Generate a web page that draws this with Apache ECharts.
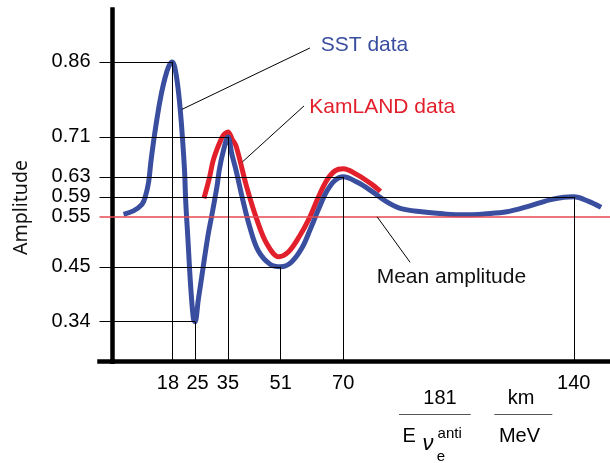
<!DOCTYPE html>
<html>
<head>
<meta charset="utf-8">
<script src="https://cdn.jsdelivr.net/npm/echarts@6/dist/echarts.min.js"></script>
<style>
html,body{margin:0;padding:0;background:#fff;}
#chart{width:610px;height:463px;}
</style>
</head>
<body>
<div id="chart"></div>
<script>
// ---- data ----
const xTicks = [18, 25, 35, 51, 70, 140];
const yTicks = [0.86, 0.71, 0.63, 0.59, 0.55, 0.45, 0.34];
const peakX = [18, 25, 35, 51, 70, 140];
const peakY = [0.86, 0.34, 0.71, 0.45, 0.63, 0.59];
const meanAmplitude = 0.55;

const sstX = [3.3, 6.3, 8.9, 9.9, 10.9, 11.6, 12.4, 13.3, 14.3, 15.4, 16.5, 17.3, 18, 18.7, 19.5, 20.3, 21.0, 21.8, 22.2, 22.8, 23.6, 24.5, 25,
  26.0, 27.4, 28.9, 30.1, 31.7, 32.4, 33.6, 35, 36.2, 37.5, 39.5, 41.6, 44.2, 47.8, 51,
  54.2, 57.5, 60.0, 62.5, 65.0, 67.5, 70, 74.3, 78.7, 83.0, 87.3, 93.8, 100.3, 106.7, 113.2, 119.7, 126.2, 132.7, 137.0, 140, 144.5, 148.3];
const sstY = [0.555, 0.562, 0.575, 0.59, 0.619, 0.66, 0.70, 0.74, 0.78, 0.815, 0.842, 0.855, 0.86, 0.853, 0.825, 0.78, 0.725, 0.645, 0.578, 0.511, 0.419, 0.346, 0.34,
  0.384, 0.446, 0.511, 0.553, 0.612, 0.645, 0.682, 0.71, 0.675, 0.642, 0.584, 0.53, 0.482, 0.455, 0.45,
  0.459, 0.488, 0.525, 0.565, 0.601, 0.623, 0.63, 0.619, 0.601, 0.581, 0.567, 0.560, 0.556, 0.554, 0.556, 0.560, 0.571, 0.584, 0.589, 0.59, 0.581, 0.569];

const kamX = [27.7, 29.3, 30.7, 33.1, 34.0, 35, 36.3, 37.5, 40.6, 43.7, 46.8, 50.4, 53.4, 56.7, 59.6, 62.5, 65.0, 67.5, 70, 74.3, 78.7, 81.3];
const kamY = [0.587, 0.626, 0.667, 0.708, 0.716, 0.72, 0.705, 0.691, 0.612, 0.546, 0.496, 0.47, 0.48, 0.511, 0.546, 0.59, 0.623, 0.642, 0.646, 0.634, 0.615, 0.601];

// annotation pointer anchors (data space): [from, to]
const sstPointer = [[21.0, 0.765], [59.9, 0.888]];
const kamPointer = [[39.4, 0.66], [58.1, 0.772]];
const meanPointer = [[80.3, 0.55], [90.3, 0.459]];

const X_MIN = -4, X_MAX = 151, Y_MIN = 0.26, Y_MAX = 0.965;

const FONT = '"Liberation Sans", Arial, sans-serif';
const zip = (xs, ys) => xs.map((x, i) => [x, ys[i]]);

const guides = [];
peakX.forEach((x, i) => {
  const y = peakY[i];
  guides.push([{ coord: [X_MIN, y] }, { coord: [x, y] }]);
  guides.push([{ coord: [x, y] }, { coord: [x, Y_MIN] }]);
});
const pointers = [sstPointer, kamPointer, meanPointer].map(p => [{ coord: p[0] }, { coord: p[1] }]);

const chart = echarts.init(document.getElementById('chart'), null, { renderer: 'canvas' });

const txt = (text, x, y, opts, extra) => Object.assign({
  type: 'text', x: x, y: y, silent: true,
  style: Object.assign({ text: text, fill: '#000', fontSize: 20, fontFamily: FONT, align: 'center', verticalAlign: 'middle' }, opts || {})
}, extra || {});

const labelStyle = { fontSize: 20, color: '#000', fontFamily: FONT };

chart.setOption({
  animation: false,
  backgroundColor: '#fff',
  grid: { left: 99.5, right: 0, top: 9.5, bottom: 101.3, outerBoundsMode: 'none' },
  xAxis: {
    type: 'value', min: X_MIN, max: X_MAX,
    axisLine: { show: true, lineStyle: { color: '#000', width: 4.5, cap: 'square' } },
    axisTick: { show: false },
    splitLine: { show: false },
    axisLabel: Object.assign({
      customValues: xTicks, margin: 12,
      formatter: v => v === 18 ? '{l|18}' : (v === 25 ? '{r|25}' : String(v)),
      rich: {
        l: Object.assign({ padding: [0, 8, 0, 0] }, labelStyle),
        r: Object.assign({ padding: [0, 0, 0, 5] }, labelStyle)
      }
    }, labelStyle)
  },
  yAxis: {
    type: 'value', min: Y_MIN, max: Y_MAX,
    axisLine: { show: true, lineStyle: { color: '#000', width: 4.5, cap: 'square' } },
    axisTick: { show: false },
    splitLine: { show: false },
    axisLabel: Object.assign({ customValues: yTicks, margin: 9,
      formatter: v => Number(v).toFixed(2) }, labelStyle)
  },
  series: [
    {
      name: 'Mean amplitude', type: 'line', data: [], z: 1, silent: true,
      markLine: {
        silent: true, symbol: ['none', 'none'], label: { show: false },
        lineStyle: { color: '#e5484f', width: 1.5, type: 'solid' },
        data: [{ yAxis: meanAmplitude }]
      }
    },
    {
      name: 'KamLAND data', type: 'line', data: zip(kamX, kamY), z: 2,
      smooth: 0.35, showSymbol: false, silent: true,
      lineStyle: { color: '#e2202c', width: 5 }, itemStyle: { color: '#e2202c' }
    },
    {
      name: 'SST data', type: 'line', data: zip(sstX, sstY), z: 3,
      smooth: 0.35, showSymbol: false, silent: true,
      lineStyle: { color: '#3a4ea0', width: 5 }, itemStyle: { color: '#3a4ea0' }
    },
    {
      name: 'guides', type: 'line', data: [], z: 4, silent: true,
      markLine: {
        silent: true, symbol: ['none', 'none'], label: { show: false },
        lineStyle: { color: '#000', width: 1, type: 'solid' },
        data: guides.concat(pointers)
      }
    }
  ],
  graphic: [
    txt('Amplitude', 21, 207.5, { fontFamily: '"Noto Sans", "Open Sans", sans-serif', fontSize: 19.5, fill: '#111' }, { rotation: Math.PI / 2 }),
    txt('SST data', 320.7, 45, { align: 'left', fontSize: 21, fill: '#3a4ea0' }),
    txt('KamLAND data', 309.3, 107, { align: 'left', fontSize: 21, fill: '#e2202c' }),
    txt('Mean amplitude', 376.7, 277, { align: 'left', fontSize: 21, fill: '#111' }),
    txt('181', 440, 398.3),
    { type: 'line', silent: true, shape: { x1: 399, y1: 414.5, x2: 470.7, y2: 414.5 }, style: { stroke: '#555', lineWidth: 1 } },
    txt('E', 409.2, 436.2),
    txt('\u03BD', 428, 444, { fontStyle: 'italic', fontSize: 22 }),
    txt('anti', 449.7, 433.6, { fontSize: 15 }),
    txt('e', 441, 456.4, { fontSize: 15 }),
    txt('km', 521, 398.3),
    { type: 'line', silent: true, shape: { x1: 494.3, y1: 414.5, x2: 552.3, y2: 414.5 }, style: { stroke: '#555', lineWidth: 1 } },
    txt('MeV', 519.5, 436.3)
  ]
});
</script>
</body>
</html>
